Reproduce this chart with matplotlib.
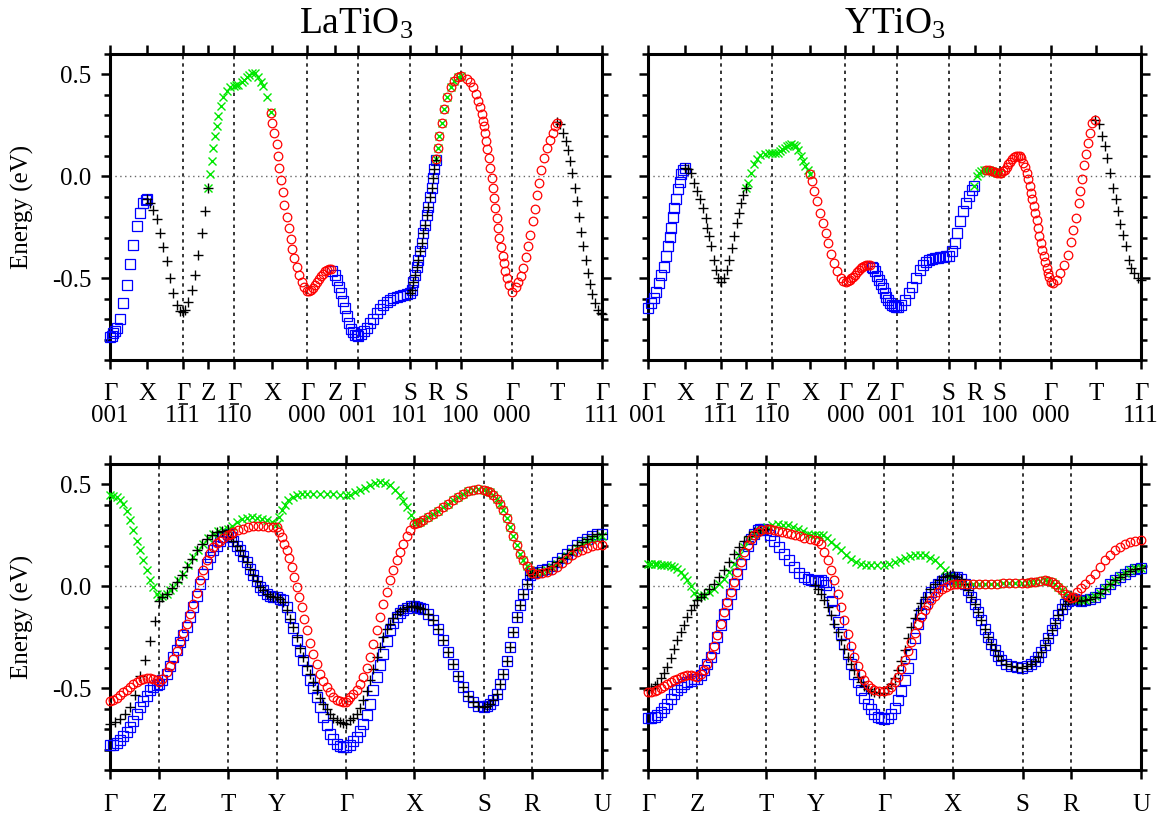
import matplotlib
matplotlib.use('Agg')
import matplotlib.pyplot as plt
from matplotlib.ticker import MultipleLocator, FixedLocator

plt.rcParams['font.family'] = ['Liberation Serif', 'DejaVu Serif']
plt.rcParams['mathtext.fontset'] = 'custom'
plt.rcParams['mathtext.rm'] = 'Liberation Serif'
plt.rcParams['mathtext.it'] = 'Liberation Serif:italic'
plt.rcParams['mathtext.bf'] = 'Liberation Serif:bold'

# ---------------- tick / path data ----------------
top_tick_k = [0, 37, 73, 98, 124, 162, 197, 225, 248, 300, 326, 351, 402, 447, 492]
top_tick_row1 = ['Γ', 'X', 'Γ', 'Z', 'Γ', 'X', 'Γ', 'Z', 'Γ', 'S', 'R', 'S', 'Γ', 'T', 'Γ']
top_tick_row2 = ['001', '', '111', '', '110', '', '000', '', '001',
                 '101', '', '100', '000', '', '111']
top_tick_bar = [False, False, True, False, True, False, False, False, False,
                False, False, False, False, False, False]   # overbar on the middle digit
bot_tick_k = [0, 49, 118, 167, 236, 304, 374, 422, 492]
bot_tick_lab = ['Γ', 'Z', 'T', 'Y', 'Γ', 'X', 'S', 'R', 'U']
titles = ['LaTiO$_3$', 'YTiO$_3$']

# ---------------- LaTiO3, unfolded path (top) ----------------
la_top_blue = [
    (0, -0.785), (2, -0.78), (3.3, -0.77), (5, -0.757), (6.7, -0.745), (10, -0.70), (13.3, -0.62),
    (16.7, -0.53), (20, -0.43), (23.3, -0.335), (26.7, -0.245), (30, -0.18), (33.3, -0.13),
    (35.5, -0.115), (37, -0.11),
    (222.3, -0.463), (225, -0.483), (227, -0.51), (229, -0.54), (231, -0.57), (233, -0.61),
    (235, -0.647), (237, -0.685), (239, -0.72), (241, -0.748), (243, -0.765), (245, -0.776),
    (247, -0.779), (248, -0.78),
    (251, -0.772), (254, -0.758), (257, -0.742), (260, -0.721), (263, -0.697), (266.7, -0.672),
    (270, -0.65), (273.3, -0.631), (276.7, -0.617), (280, -0.606), (283.3, -0.597), (286.7, -0.59),
    (290, -0.585), (293.3, -0.581), (296.7, -0.577), (300, -0.573),
    (301.7, -0.557), (303.3, -0.516), (305, -0.483), (306.7, -0.442), (308.3, -0.409), (310, -0.368),
    (311.7, -0.327), (313.3, -0.277), (315, -0.236), (316.7, -0.19), (318.3, -0.151), (320, -0.102),
    (321.7, -0.056), (322.7, -0.007), (324, 0.034), (325.7, 0.079),
]
la_top_black = [
    (37, -0.11), (40, -0.13), (43.3, -0.163), (46.7, -0.21), (50, -0.277), (53.3, -0.348),
    (56.7, -0.417), (60, -0.50), (63.3, -0.573), (66.7, -0.63), (70, -0.658), (73, -0.665),
    (75, -0.655), (78.3, -0.614), (81.7, -0.557), (85, -0.483), (88.3, -0.384), (91.7, -0.277),
    (95, -0.171), (98, -0.056),
    (447, 0.268), (450, 0.256), (453.3, 0.215), (456, 0.174), (458.3, 0.128), (460, 0.076),
    (462.3, 0.018), (465, -0.056), (466.7, -0.122), (468.7, -0.199), (470.7, -0.273), (473.3, -0.343),
    (475.7, -0.409), (478, -0.475), (480, -0.529), (482.3, -0.578), (485, -0.622), (487.7, -0.655),
    (490.7, -0.672), (492, -0.675),
]
la_top_green = [
    (98, -0.056), (100, 0.01), (101.7, 0.075), (103.3, 0.14), (105, 0.2), (106.7, 0.248),
    (108.3, 0.297), (110.7, 0.346), (113.3, 0.388), (116.7, 0.42), (120, 0.437), (124, 0.445),
    (126, 0.447), (128.3, 0.45), (131.7, 0.461), (134, 0.474), (136.7, 0.486), (139, 0.498),
    (141.7, 0.506), (145, 0.506), (148.3, 0.486), (151, 0.465), (153.3, 0.445), (156.7, 0.388),
    (160.7, 0.314),
    (326, 0.084), (327.7, 0.141), (329.3, 0.199), (331.7, 0.264), (334.3, 0.33), (337.3, 0.388),
    (340.7, 0.437), (344.3, 0.47), (347.7, 0.486), (351, 0.491),
]
la_top_red = [
    (160.7, 0.31), (162.3, 0.261), (164, 0.212), (166.7, 0.158), (168.3, 0.10), (169.3, 0.043),
    (171.3, -0.018), (172.7, -0.077), (174, -0.138), (176.7, -0.20), (178.7, -0.253), (180.7, -0.305),
    (182.3, -0.355), (184.3, -0.40), (186.7, -0.442), (189, -0.483), (191.7, -0.516), (194, -0.54),
    (196.7, -0.562),
    (199, -0.563), (201, -0.557), (203, -0.545), (205, -0.532), (207, -0.52), (209, -0.505),
    (211, -0.49), (213, -0.476), (215, -0.465), (217, -0.457), (219, -0.453), (221, -0.456),
    (356.7, 0.478), (360, 0.461), (363.3, 0.437), (366, 0.404), (368.3, 0.371), (370, 0.338),
    (371.7, 0.305), (372.7, 0.273), (374, 0.248), (375, 0.215), (376, 0.174), (377.3, 0.133),
    (379.3, 0.092), (380, 0.043), (381.7, -0.007), (382.7, -0.056), (384, -0.108), (385.3, -0.154),
    (386.7, -0.204), (388, -0.253), (389.3, -0.302), (391, -0.348), (392.7, -0.388), (394, -0.425),
    (395.3, -0.463), (396.7, -0.499), (399, -0.532), (402.3, -0.568),
    (405.7, -0.54), (408.3, -0.519), (411, -0.488), (413.3, -0.447), (415.7, -0.397), (417.7, -0.343),
    (420, -0.286), (422.7, -0.22), (425, -0.158), (427.3, -0.092), (429.3, -0.031), (431.3, 0.03),
    (434, 0.089), (437.3, 0.138), (440, 0.179), (442.7, 0.215), (445, 0.248), (446.7, 0.264),
]

# ---------------- YTiO3, unfolded path (top) ----------------
y_top_blue = [
    (0, -0.645), (2.8, -0.622), (5.7, -0.598), (8.3, -0.565), (10.5, -0.524), (13.1, -0.483),
    (16.1, -0.442), (17.9, -0.392), (19.8, -0.343), (21.6, -0.297), (23.4, -0.253), (24.9, -0.199),
    (26.4, -0.154), (27.9, -0.11), (29.7, -0.064), (31.6, -0.028), (33.4, 0.01), (35.2, 0.031),
    (37, 0.043),
    (223.3, -0.442), (225, -0.45), (227, -0.466), (229, -0.487), (230.7, -0.507), (232.5, -0.528),
    (234.4, -0.548), (236.2, -0.57), (238, -0.59), (240, -0.607), (241.7, -0.622), (243.5, -0.63),
    (245.4, -0.635), (247, -0.638), (249, -0.639),
    (252.8, -0.631), (256.5, -0.606), (260.2, -0.573), (263.9, -0.54), (267.5, -0.499),
    (271.2, -0.461), (274.9, -0.433), (277.7, -0.42), (280.5, -0.412), (283.3, -0.405), (286, -0.401),
    (289, -0.398), (291.5, -0.396), (294, -0.394), (297, -0.392), (300, -0.389),
    (303.7, -0.368), (306.3, -0.327), (308.8, -0.277), (311.8, -0.22), (314.7, -0.171),
    (317.3, -0.13), (319.9, -0.097), (322.9, -0.067), (325.8, -0.048),
]
y_top_black = [
    (37, 0.043), (39.7, 0.035), (42.6, 0.018), (46.3, -0.031), (49.3, -0.072), (51.8, -0.113),
    (54.8, -0.154), (57.4, -0.204), (59.2, -0.253), (61, -0.294), (62.9, -0.343), (65.5, -0.409),
    (67.7, -0.458), (70.3, -0.499), (73, -0.516),
    (75.8, -0.499), (78.8, -0.458), (81.3, -0.409), (83.9, -0.351), (86.1, -0.294), (88.7, -0.228),
    (91.3, -0.179), (93.1, -0.13), (95.3, -0.089), (98, -0.056),
    (446.4, 0.278), (450, 0.256), (453, 0.199), (455.6, 0.149), (458.5, 0.092), (461.1, 0.018),
    (464.1, -0.056), (466.7, -0.113), (469.2, -0.171), (471.4, -0.232), (474, -0.286), (477, -0.343),
    (479.6, -0.409), (482.5, -0.45), (485.1, -0.475), (488.8, -0.499), (492, -0.507),
]
y_top_green = [
    (98, -0.056), (99.8, -0.031), (102.4, 0.018), (105.3, 0.059), (108.3, 0.087), (112, 0.105),
    (116.4, 0.112), (120.8, 0.113), (124, 0.113),
    (127, 0.115), (129.3, 0.117), (131.7, 0.125), (134.1, 0.133), (136.3, 0.141), (138.5, 0.149),
    (140.7, 0.155), (142.9, 0.158), (145.3, 0.155), (147.7, 0.149), (150, 0.127), (152.5, 0.10),
    (155, 0.075), (157, 0.051), (159.2, 0.03), (161.4, 0.01),
    (325.8, -0.048), (328.4, 0.002), (330.3, 0.018), (332.1, 0.026), (335, 0.03), (337.6, 0.031),
    (340.3, 0.03), (343.1, 0.026), (346, 0.022), (348.7, 0.018), (351, 0.018),
]
y_top_red = [
    (161.4, 0.01), (163.6, -0.023), (166.1, -0.072), (168.7, -0.122), (171.7, -0.179),
    (174.3, -0.228), (177.2, -0.277), (179.8, -0.327), (182.7, -0.379), (185.7, -0.425),
    (189, -0.466), (192.7, -0.499), (195, -0.511), (197.5, -0.516),
    (199.3, -0.513), (201.2, -0.507), (203, -0.5), (204.9, -0.491), (206.7, -0.481), (208.5, -0.471),
    (210.3, -0.46), (212.2, -0.45), (214, -0.443), (215.9, -0.437), (217.8, -0.434), (219.6, -0.433),
    (221.5, -0.436),
    (352.3, 0.018), (354, 0.025), (356, 0.031), (357.8, 0.045), (359.7, 0.059), (361.5, 0.072),
    (363.4, 0.084), (365.2, 0.093), (367.1, 0.1), (369, 0.102), (370.8, 0.1), (372.6, 0.088),
    (374.5, 0.067), (376.3, 0.045), (378.2, 0.018), (379.7, -0.015), (381.1, -0.048), (382.4, -0.08),
    (383.7, -0.113), (385, -0.146), (386.3, -0.179), (387.8, -0.216), (389.2, -0.253), (390.5, -0.29),
    (391.8, -0.327), (393.3, -0.36), (394.8, -0.392), (396.2, -0.422), (397.7, -0.45), (399, -0.472),
    (400.3, -0.491), (402, -0.516),
    (404, -0.524), (407.7, -0.507), (411.4, -0.475), (415, -0.433), (418.7, -0.384), (421.7, -0.323),
    (424.3, -0.261), (427.2, -0.204), (429.8, -0.13), (431.6, -0.072), (433.5, -0.011), (435.3, 0.054),
    (437.2, 0.108), (439, 0.163), (440.8, 0.215), (443.4, 0.261), (446.4, 0.278),
]

# ---------------- LaTiO3, orthorhombic bands (bottom) ----------------
la_bot_blue = [
    (0, -0.779), (3.3, -0.775), (6.7, -0.767), (10, -0.755), (13.3, -0.735), (16.7, -0.715), (20, -0.69),
    (23.3, -0.66), (26.7, -0.625), (30, -0.59), (33.3, -0.56), (36.7, -0.535), (40, -0.51),
    (43.3, -0.495), (46.7, -0.485), (49, -0.48),
    (52, -0.46), (56.7, -0.428), (60, -0.39), (63.3, -0.346), (66.7, -0.31), (70, -0.273), (73.3, -0.236),
    (76.7, -0.199), (80, -0.15), (83.3, -0.101), (86.7, -0.045), (90, 0.013), (93.3, 0.062),
    (96.7, 0.111), (100, 0.145), (103.3, 0.176), (106.7, 0.2), (110, 0.225), (113.3, 0.24), (117.7, 0.255),
    (120.5, 0.24), (123.3, 0.225), (126.7, 0.2), (130, 0.176), (133.3, 0.148), (136.7, 0.119),
    (140, 0.087), (143.3, 0.054), (146.7, 0.025), (150, -0.003), (153.3, -0.02), (156.7, -0.036),
    (160, -0.045), (163.3, -0.05), (167, -0.052),
    (170, -0.06), (173.3, -0.069), (176.7, -0.1), (180, -0.15), (183.3, -0.205), (186.7, -0.265),
    (190, -0.315), (193.3, -0.363), (196.7, -0.412), (200, -0.461), (203.3, -0.5), (206.7, -0.542),
    (210, -0.59), (213.3, -0.64), (216.7, -0.68), (220, -0.722), (223.3, -0.75), (226.7, -0.771),
    (230, -0.782), (233, -0.787), (236, -0.788),
    (240, -0.779), (243.3, -0.76), (246.7, -0.739), (250, -0.71), (253.3, -0.673), (256.7, -0.63),
    (260, -0.575), (263.3, -0.51), (266.7, -0.444), (270, -0.387), (273.3, -0.33), (276.7, -0.27),
    (280, -0.216), (283.3, -0.18), (286.7, -0.15), (290, -0.13), (293.3, -0.118), (297, -0.105),
    (300.5, -0.098), (304, -0.096),
    (307.3, -0.1), (310.3, -0.104), (313.3, -0.109), (318.3, -0.135), (323.3, -0.167), (328.3, -0.21),
    (333.3, -0.265), (338.3, -0.32), (343.3, -0.379), (348.3, -0.44), (353.3, -0.493), (358.3, -0.535),
    (363.3, -0.567), (368.3, -0.585), (374, -0.592),
    (377, -0.585), (380, -0.575), (383.3, -0.555), (386.7, -0.526), (390, -0.48), (393.3, -0.428),
    (396.7, -0.365), (400, -0.297), (403.3, -0.222), (406.7, -0.15), (410, -0.09), (413.3, -0.036),
    (416.7, 0.01), (420, 0.054), (422, 0.067),
    (426.7, 0.07), (431.7, 0.078), (436.7, 0.087), (441.7, 0.102), (446.7, 0.119), (451.7, 0.14),
    (456.7, 0.16), (461.7, 0.18), (466.7, 0.201), (471.7, 0.218), (476.7, 0.234), (481.7, 0.246),
    (486.7, 0.255), (492, 0.258),
]
la_bot_black = [
    (0, -0.673), (5, -0.667), (10, -0.65), (15, -0.625), (20, -0.59), (25, -0.53), (30, -0.44),
    (35, -0.36), (40, -0.27), (45, -0.17), (49, -0.07),
    (52, -0.05), (56.7, -0.036), (61.7, -0.01), (66.7, 0.02), (71.7, 0.055), (76.7, 0.095),
    (81.7, 0.136), (86.7, 0.176), (91.7, 0.207), (96.7, 0.234), (101.7, 0.252), (106.7, 0.266),
    (112, 0.272), (117.7, 0.275),
    (170, -0.062), (173.3, -0.077), (176.7, -0.115), (180, -0.158), (183.3, -0.2), (186.7, -0.248),
    (190, -0.3), (193.3, -0.346), (196.7, -0.39), (200, -0.428), (203.3, -0.47), (206.7, -0.51),
    (210, -0.545), (213.3, -0.575), (216.7, -0.602), (220, -0.624), (223.3, -0.643), (226.7, -0.657),
    (230, -0.667), (233, -0.672), (236, -0.673),
    (240, -0.657), (243.3, -0.643), (246.7, -0.624), (250, -0.595), (253.3, -0.559), (256.7, -0.512),
    (260, -0.461), (263.3, -0.405), (266.7, -0.346), (270, -0.295), (273.3, -0.248), (276.7, -0.21),
    (280, -0.183), (283.3, -0.157), (286.7, -0.134), (290, -0.12), (293.3, -0.109), (297, -0.1),
    (300.5, -0.097), (304, -0.096),
]
la_bot_red = [
    (0, -0.562), (3.3, -0.558), (6.7, -0.548), (10, -0.534), (13.3, -0.52), (16.7, -0.506), (20, -0.493),
    (23.3, -0.48), (26.7, -0.469), (30, -0.461), (33.3, -0.455), (36.7, -0.45), (40, -0.448),
    (43.3, -0.452), (46.7, -0.46), (49, -0.469),
    (52, -0.455), (56.7, -0.42), (60, -0.39), (63.3, -0.355), (66.7, -0.315), (70, -0.273),
    (73.3, -0.228), (76.7, -0.183), (80, -0.135), (83.3, -0.085), (86.7, -0.03), (90, 0.029),
    (93.3, 0.08), (96.7, 0.127), (100, 0.163), (103.3, 0.193), (106.7, 0.212), (110, 0.225),
    (113.3, 0.238), (117.7, 0.25),
    (120.5, 0.258), (123.3, 0.266), (128.3, 0.276), (133.3, 0.283), (138.3, 0.289), (143.3, 0.294),
    (148.3, 0.295), (153.3, 0.294), (158.3, 0.293), (163, 0.292), (167, 0.291),
    (169.3, 0.268), (171.7, 0.242), (174.2, 0.21), (176.7, 0.176), (179.2, 0.137), (181.7, 0.095),
    (184.2, 0.048), (186.7, -0.003), (189.2, -0.052), (191.7, -0.101), (194.2, -0.158), (196.7, -0.216),
    (200, -0.275), (203.3, -0.33), (206.7, -0.38), (210, -0.428), (213.3, -0.465), (216.7, -0.493),
    (220, -0.52), (223.3, -0.542), (226.7, -0.555), (230, -0.562), (233, -0.566), (236, -0.567),
    (238, -0.558), (240, -0.542), (243.3, -0.528), (246.7, -0.51), (250, -0.48), (253.3, -0.444),
    (256.7, -0.398), (260, -0.346), (263.3, -0.283), (266.7, -0.216), (270, -0.15), (273.3, -0.085),
    (276.7, -0.028), (280, 0.029), (283.3, 0.08), (286.7, 0.127), (290, 0.17), (293.3, 0.209),
    (296.7, 0.245), (300, 0.275), (304, 0.307),
    (307, 0.312), (310, 0.318), (313.3, 0.324), (318.3, 0.34), (323.3, 0.356), (328.3, 0.372),
    (333.3, 0.389), (338.3, 0.405), (343.3, 0.422), (348.3, 0.438), (353.3, 0.454), (358.3, 0.466),
    (363.3, 0.474), (368.3, 0.476), (374, 0.474),
    (377, 0.47), (380, 0.462), (383.3, 0.448), (386.7, 0.43), (390, 0.404), (393.3, 0.373),
    (396.7, 0.335), (400, 0.291), (403.3, 0.245), (406.7, 0.201), (410, 0.16), (413.3, 0.127),
    (416.7, 0.1), (420, 0.078), (422, 0.067),
    (426.7, 0.062), (431.7, 0.065), (436.7, 0.07), (441.7, 0.08), (446.7, 0.095), (451.7, 0.115),
    (456.7, 0.136), (461.7, 0.153), (466.7, 0.168), (471.7, 0.18), (476.7, 0.19), (481.7, 0.196),
    (486.7, 0.201), (492, 0.204),
]
la_bot_green = [
    (0, 0.446), (3.3, 0.444), (6.7, 0.438), (10, 0.425), (13.3, 0.405), (16.7, 0.37), (20, 0.324),
    (23.3, 0.275), (26.7, 0.225), (30, 0.176), (33.3, 0.127), (36.7, 0.078), (40, 0.029),
    (43.3, -0.005), (46.7, -0.036), (49, -0.052),
    (52, -0.048), (56.7, -0.036), (60, -0.02), (63.3, -0.003), (68.3, 0.03), (73.3, 0.062),
    (78.3, 0.103), (83.3, 0.144), (88.3, 0.178), (93.3, 0.209), (98.3, 0.236), (103.3, 0.258),
    (108.3, 0.27), (113, 0.278), (117.7, 0.283),
    (121.7, 0.298), (126.7, 0.315), (131.7, 0.328), (136.7, 0.337), (141.7, 0.339), (146.7, 0.337),
    (151.7, 0.332), (156.7, 0.324), (161.7, 0.315), (167, 0.307),
    (169.3, 0.34), (171.7, 0.373), (175, 0.4), (178.3, 0.422), (182.5, 0.436), (186.7, 0.446),
    (191.7, 0.451), (196.7, 0.454), (203.3, 0.455), (210, 0.454), (216.7, 0.452), (223.3, 0.451),
    (230, 0.448), (236, 0.446),
    (240, 0.45), (245, 0.462), (250, 0.471), (255, 0.483), (260, 0.495), (265, 0.505), (270, 0.511),
    (275, 0.507), (280, 0.495), (285, 0.473), (290, 0.446), (293.3, 0.42), (296.7, 0.389),
    (300.5, 0.352), (304, 0.315),
    (426.7, 0.067), (431.7, 0.073), (436.7, 0.082), (441.7, 0.095), (446.7, 0.111), (451.7, 0.13),
    (456.7, 0.149), (461.7, 0.17), (466.7, 0.19), (471.7, 0.206), (476.7, 0.221), (481.7, 0.232),
    (486.7, 0.239), (492, 0.245),
]

# ---------------- YTiO3, orthorhombic bands (bottom) ----------------
y_bot_blue = [
    (0, -0.644), (3.3, -0.643), (6.7, -0.638), (9.3, -0.632), (13, -0.615), (16.3, -0.595),
    (19.3, -0.575), (22.7, -0.55), (26, -0.528), (29.3, -0.51), (32.7, -0.492), (36, -0.478),
    (39.3, -0.469), (42.7, -0.462), (46, -0.456), (49, -0.453),
    (52.5, -0.435), (56, -0.412), (59.3, -0.382), (62.7, -0.346), (66, -0.3), (69.3, -0.248),
    (72.7, -0.19), (76, -0.134), (79.3, -0.085), (82.7, -0.036), (86, 0.013), (89.3, 0.062),
    (92.7, 0.111), (96, 0.16), (99.3, 0.2), (102.7, 0.234), (106, 0.258), (109.3, 0.275),
    (112, 0.281), (115, 0.283), (118, 0.275),
    (122, 0.25), (126, 0.225), (131, 0.193), (136, 0.16), (141, 0.127), (146, 0.095), (151, 0.068),
    (156, 0.046), (159.5, 0.035), (162.7, 0.029), (167, 0.026),
    (170, 0.028), (172.7, 0.029), (175, 0.02), (177.7, 0.005), (181, -0.028), (183.5, -0.07),
    (186, -0.118), (189.3, -0.175), (192.7, -0.232), (196, -0.281), (199.3, -0.33), (202.7, -0.38),
    (206, -0.428), (209.3, -0.47), (212.7, -0.51), (216, -0.545), (219.3, -0.575), (222.7, -0.602),
    (226, -0.624), (229.3, -0.64), (232.5, -0.647), (236, -0.649),
    (239.3, -0.643), (242.7, -0.624), (246, -0.595), (249.3, -0.559), (252.7, -0.515), (256, -0.461),
    (259.3, -0.4), (262.7, -0.33), (266, -0.255), (269.3, -0.183), (272.7, -0.13), (276, -0.085),
    (279.3, -0.052), (282.7, -0.028), (286, -0.005), (289.3, 0.013), (293.5, 0.028), (297.7, 0.038),
    (301.3, 0.043), (305, 0.046),
    (308.8, 0.044), (312.7, 0.035), (316, 0.01), (319.3, -0.02), (322.7, -0.05), (326, -0.085),
    (329.3, -0.125), (332.7, -0.167), (336, -0.208), (339.3, -0.248), (342.7, -0.283), (346, -0.314),
    (349.3, -0.34), (352.7, -0.363), (357.7, -0.382), (362.7, -0.392), (368, -0.397), (373.7, -0.399),
    (378, -0.392), (382.7, -0.379), (386, -0.365), (389.3, -0.346), (392.7, -0.32), (396, -0.289),
    (399.3, -0.255), (402.7, -0.216), (406, -0.178), (409.3, -0.142), (412.7, -0.112), (416, -0.085),
    (419, -0.07), (422, -0.06),
    (424.7, -0.063), (427.7, -0.069), (432, -0.07), (436, -0.069), (441, -0.062), (446, -0.052),
    (451, -0.033), (456, -0.011), (461, 0.01), (466, 0.029), (471, 0.047), (476, 0.062), (481, 0.076),
    (486, 0.087), (492, 0.092),
]
y_bot_black = [
    (0, -0.51), (3.3, -0.5), (6.7, -0.49), (9.3, -0.477), (13, -0.45), (16.3, -0.425), (19.3, -0.395),
    (22.7, -0.352), (26, -0.308), (29.3, -0.265), (32.7, -0.225), (36, -0.187), (39.3, -0.15),
    (42.7, -0.115), (46, -0.09), (49, -0.069),
    (52.5, -0.05), (56, -0.036), (61, -0.012), (66, 0.013), (71, 0.045), (76, 0.078), (81, 0.118),
    (86, 0.16), (91, 0.193), (96, 0.225), (101, 0.248), (106, 0.266), (112, 0.278), (118.3, 0.283),
    (167, 0.005),
    (169.7, -0.015), (172.7, -0.036), (176, -0.068), (179.3, -0.101), (182.7, -0.142), (186, -0.183),
    (189.3, -0.224), (192.7, -0.265), (196, -0.306), (199.3, -0.346), (202.7, -0.38), (206, -0.412),
    (209.3, -0.442), (212.7, -0.469), (216, -0.488), (219.3, -0.502), (222.7, -0.512), (226, -0.518),
    (231, -0.523), (236, -0.524),
    (239.3, -0.5), (242.7, -0.477), (246, -0.447), (249.3, -0.412), (252.7, -0.365), (256, -0.314),
    (259.3, -0.255), (262.7, -0.199), (266, -0.155), (269.3, -0.118), (272.7, -0.083), (276, -0.052),
    (281, -0.015), (286, 0.013), (290, 0.032), (294.3, 0.046), (298, 0.052), (301, 0.054), (305, 0.05),
]
y_bot_red = [
    (0, -0.518), (3.3, -0.516), (6.7, -0.513), (9.3, -0.51), (13, -0.5), (16.3, -0.49), (19.3, -0.48),
    (22.7, -0.47), (26, -0.461), (29.3, -0.453), (32.7, -0.446), (36, -0.44), (39.3, -0.436),
    (42.7, -0.436), (46, -0.44), (49, -0.444),
    (52.5, -0.43), (56, -0.408), (59.3, -0.378), (62.7, -0.338), (66, -0.292), (69.3, -0.24),
    (72.7, -0.183), (76, -0.126), (79.3, -0.077), (82.7, -0.028), (86, 0.021), (89.3, 0.07),
    (92.7, 0.12), (96, 0.168), (99.3, 0.205), (102.7, 0.234), (106, 0.252), (109.3, 0.266),
    (113, 0.276), (118.3, 0.283),
    (121.7, 0.281), (125.3, 0.276), (129.3, 0.271), (134, 0.266), (138.3, 0.26), (142.7, 0.255),
    (147, 0.25), (151.3, 0.245), (156, 0.239), (161.5, 0.234), (167, 0.229),
    (169.7, 0.222), (172.7, 0.209), (176, 0.17), (179.3, 0.127), (182.7, 0.08), (186, 0.029),
    (189.3, -0.035), (192.7, -0.101), (196, -0.166), (199.3, -0.232), (202.7, -0.29), (206, -0.346),
    (209.3, -0.39), (212.7, -0.428), (216, -0.46), (219.3, -0.485), (222.7, -0.5), (226, -0.51),
    (231, -0.514), (236, -0.515),
    (239.3, -0.51), (242.7, -0.493), (246, -0.47), (249.3, -0.444), (252.7, -0.405), (256, -0.363),
    (259.3, -0.318), (262.7, -0.273), (266, -0.228), (269.3, -0.183), (272.7, -0.148), (276, -0.118),
    (279.3, -0.092), (282.7, -0.069), (286, -0.047), (289.3, -0.028), (293.5, -0.013), (297.7, -0.003),
    (301.3, 0.006), (305, 0.013),
    (308.8, 0.013), (312.7, 0.012), (318, 0.012), (324, 0.013), (330, 0.013), (336, 0.013),
    (342, 0.014), (348, 0.014), (354, 0.015), (360, 0.016), (366, 0.016), (373.7, 0.016),
    (378, 0.018), (382.7, 0.02), (386, 0.021), (391, 0.026), (396, 0.029), (399.3, 0.027),
    (402.7, 0.021), (406, 0.01), (409.3, -0.003), (412.7, -0.02), (416, -0.036), (419, -0.048),
    (422, -0.056),
    (424.7, -0.052), (427.7, -0.028), (432, -0.008), (436, 0.013), (441, 0.038), (446, 0.062),
    (451, 0.095), (456, 0.127), (461, 0.152), (466, 0.176), (471, 0.193), (476, 0.209), (481, 0.218),
    (486, 0.225), (492, 0.226),
]
y_bot_green = [
    (0, 0.108), (3.3, 0.108), (6.7, 0.108), (9.3, 0.108), (13, 0.107), (16.3, 0.105), (19.3, 0.103),
    (22.7, 0.1), (26, 0.095), (29.3, 0.087), (32.7, 0.073), (36, 0.052), (39.3, 0.029), (42.7, 0.0),
    (46, -0.03), (49, -0.052),
    (52.5, -0.048), (56, -0.044), (61, -0.029), (66, -0.011), (71, 0.012), (76, 0.038), (81, 0.072),
    (86, 0.111), (91, 0.153), (96, 0.193), (101, 0.228), (106, 0.258), (112, 0.278), (118.3, 0.291),
    (123.8, 0.3), (129.3, 0.304), (134.3, 0.303), (139.3, 0.299), (144.3, 0.292), (149.3, 0.283),
    (154.3, 0.27), (159.3, 0.258), (163, 0.252), (167, 0.25),
    (170.7, 0.25), (174.3, 0.25), (178.5, 0.235), (182.7, 0.217), (187.7, 0.197), (192.7, 0.176),
    (197.7, 0.156), (202.7, 0.136), (207.7, 0.121), (212.7, 0.111), (217.7, 0.106), (222.7, 0.103),
    (229, 0.103), (236, 0.103),
    (241, 0.111), (246, 0.119), (251, 0.129), (256, 0.139), (261, 0.148), (266, 0.155), (271, 0.156),
    (276, 0.152), (281, 0.141), (286, 0.127), (291, 0.104), (296, 0.078), (300.5, 0.048), (305, 0.016),
    (424.7, -0.06), (427.7, -0.065), (432, -0.066), (436, -0.065), (441, -0.059), (446, -0.049),
    (451, -0.03), (456, -0.008), (461, 0.013), (466, 0.032), (471, 0.05), (476, 0.065), (481, 0.078),
    (486, 0.088), (492, 0.092),
]


def pick(pts, k0, k1):
    return [p for p in pts if k0 < p[0] <= k1]


# degenerate partner bands share the same values on part of the path
la_top_black = la_top_black + pick(la_top_blue, 299, 327)
la_top_red = la_top_red + pick(la_top_green, 325, 352)
y_top_red = y_top_red + pick(y_top_green, 335, 352)
la_bot_black = la_bot_black + pick(la_bot_blue, 118, 167) + pick(la_bot_blue, 304, 492)
la_bot_green = la_bot_green + pick(la_bot_red, 304, 422)
y_bot_black = y_bot_black + pick(y_bot_blue, 305, 492)
y_bot_green = y_bot_green + pick(y_bot_red, 305, 422)

# ---------------- drawing ----------------
W, H = 1157, 823
fig = plt.figure(figsize=(W / 100, H / 100), dpi=100)

STY = {
    'blue': dict(marker='s', ms=6.5, mfc='none', mec='#0000ff', mew=0.9, ls='none'),
    'green': dict(marker='x', ms=6.2, mec='#00e800', mew=1.0, ls='none'),
    'black': dict(marker='+', ms=7.5, mec='black', mew=1.0, ls='none'),
    'red': dict(marker='o', ms=6.2, mfc='none', mec='#ff0000', mew=0.9, ls='none'),
}
ORDER = ['blue', 'green', 'black', 'red']
FS = 18
ROW1_Y, ROW2_Y, BAR_Y = -0.112, -0.183, -0.143


def make_ax(x0, x1, y0, y1):
    return fig.add_axes([x0 / W, 1 - y1 / H, (x1 - x0) / W, (y1 - y0) / H])


def setup(ax, tick_k, vline_k, ylab):
    ax.set_xlim(0, 492)
    ax.set_ylim(-0.9, 0.6)
    ax.xaxis.set_major_locator(FixedLocator(tick_k))
    ax.set_xticklabels([])
    ax.yaxis.set_major_locator(FixedLocator([-0.5, 0.0, 0.5]))
    ax.yaxis.set_minor_locator(MultipleLocator(0.1))
    ax.tick_params(which='both', direction='out', top=True, right=True, width=1.8)
    ax.tick_params(which='major', length=6.5, pad=7)
    ax.tick_params(which='minor', length=4)
    ax.tick_params(axis='x', which='minor', top=False, bottom=False)
    if ylab:
        ax.set_yticklabels(['-0.5', '0.0', '0.5'], fontsize=FS)
    else:
        ax.set_yticklabels([])
    for s in ax.spines.values():
        s.set_linewidth(2.2)
    for k in vline_k:
        ax.axvline(k, color='black', lw=1.1, ls=(0, (2.2, 2.6)), zorder=1)
    ax.axhline(0.0, color='0.4', lw=1.0, ls=(0, (1, 2.5)), zorder=1)


def draw(ax, series):
    for z, name in enumerate(ORDER):
        pts = series[name]
        ax.plot([p[0] for p in pts], [p[1] for p in pts], zorder=3 + z, clip_on=False, **STY[name])


panels_top = [
    ((110, 602), dict(blue=la_top_blue, green=la_top_green, black=la_top_black, red=la_top_red)),
    ((648, 1141), dict(blue=y_top_blue, green=y_top_green, black=y_top_black, red=y_top_red)),
]
panels_bot = [
    ((110, 602), dict(blue=la_bot_blue, green=la_bot_green, black=la_bot_black, red=la_bot_red)),
    ((648, 1141), dict(blue=y_bot_blue, green=y_bot_green, black=y_bot_black, red=y_bot_red)),
]

top_vlines = [k for k, r2 in zip(top_tick_k, top_tick_row2) if r2 and 0 < k < 492]
bot_vlines = bot_tick_k[1:-1]

for i, ((x0, x1), ser) in enumerate(panels_top):
    ax = make_ax(x0, x1, 54, 360)
    setup(ax, top_tick_k, top_vlines, i == 0)
    draw(ax, ser)
    tr = ax.get_xaxis_transform()
    for k, l1, l2, bar in zip(top_tick_k, top_tick_row1, top_tick_row2, top_tick_bar):
        ax.text(k, ROW1_Y, l1, transform=tr, ha='center', va='center', fontsize=FS)
        if l2:
            ax.text(k, ROW2_Y, l2, transform=tr, ha='center', va='center', fontsize=FS)
        if bar:
            # overline on the middle digit (1 data unit is about 1 pixel wide)
            ax.plot([k - 4.5, k + 4.5], [BAR_Y, BAR_Y], transform=tr, color='black',
                    lw=1.1, clip_on=False, solid_capstyle='butt')
    fig.text((x0 + x1) / 2 / W, 1 - 24 / H, titles[i], ha='center', va='center', fontsize=27)
    if i == 0:
        fig.text(22 / W, 1 - 207 / H, 'Energy (eV)', rotation=90, ha='center', va='center', fontsize=FS)

for i, ((x0, x1), ser) in enumerate(panels_bot):
    ax = make_ax(x0, x1, 464, 770)
    setup(ax, bot_tick_k, bot_vlines, i == 0)
    draw(ax, ser)
    tr = ax.get_xaxis_transform()
    for k, l1 in zip(bot_tick_k, bot_tick_lab):
        ax.text(k, -0.113, l1, transform=tr, ha='center', va='center', fontsize=FS)
    if i == 0:
        fig.text(22 / W, 1 - 617 / H, 'Energy (eV)', rotation=90, ha='center', va='center', fontsize=FS)

fig.savefig('out.png', dpi=100)
